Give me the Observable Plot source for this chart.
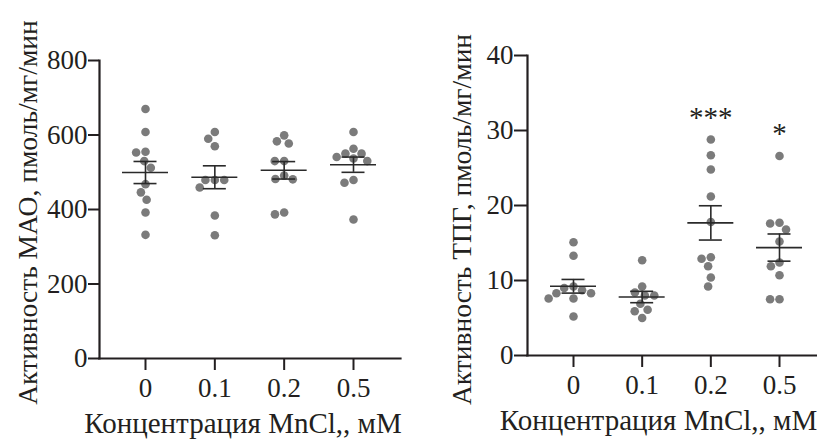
<!DOCTYPE html>
<html><head><meta charset="utf-8">
<script src="https://cdn.jsdelivr.net/npm/d3@7"></script>
<script src="https://cdn.jsdelivr.net/npm/@observablehq/plot@0.6"></script>
<style>
body{margin:0;background:#fff}
#wrap{display:flex;width:817px;height:441px;overflow:hidden;background:#fff}
#wrap svg{flex:none}
#wrap svg, #wrap svg text{font-family:"Liberation Serif", Tinos, "Times New Roman", "DejaVu Serif", serif !important}
</style></head><body><div id="wrap"></div>
<script>
// ---- data ----
const concentrations = ["0", "0.1", "0.2", "0.5"];
const maoValues = [
  [670, 608, 555, 553, 530, 512, 468, 446, 426, 392, 332],
  [608, 590, 570, 479, 479, 479, 459, 384, 331],
  [599, 583, 577, 530, 530, 491, 482, 481, 392, 387],
  [608, 563, 550, 550, 541, 537, 530, 479, 472, 373]
];
const tpgValues = [
  [15.1, 13.3, 9.2, 9.0, 8.7, 8.3, 8.3, 7.6, 7.6, 5.2],
  [12.7, 9.2, 8.4, 8.0, 8.0, 6.9, 6.1, 5.9, 5.0],
  [28.8, 26.7, 24.8, 21.2, 17.8, 13.1, 12.9, 11.9, 10.4, 9.2],
  [26.6, 17.7, 17.6, 16.8, 15.2, 12.4, 11.9, 10.7, 7.5, 7.5]
];
const maoSignificance = ["", "", "", ""];
const tpgSignificance = ["", "", "***", "*"];
const maoTicks = [0, 200, 400, 600, 800];
const tpgTicks = [0, 10, 20, 30, 40];
const maoTitle = "Активность МАО, пмоль/мг/мин";
const tpgTitle = "Активность ТПГ, пмоль/мг/мин";
const xTitle = "Концентрация MnCl,, мМ";

// ---- helpers ----
// simple centred beeswarm in pixel space, returns pixel offsets
function swarm(py) {
  const d = 9.4;
  const order = d3.range(py.length).sort((a, b) => py[a] - py[b]);
  const placed = [], off = new Array(py.length);
  for (const i of order) {
    const y = py[i];
    const cands = [0];
    for (const p of placed) {
      const dy = Math.abs(p.y - y);
      if (dy < d) { const dx = Math.sqrt(d * d - dy * dy); cands.push(p.x - dx, p.x + dx); }
    }
    cands.sort((a, b) => Math.abs(a) - Math.abs(b) || a - b);
    const x = cands.find(c => placed.every(p => (p.x - c) ** 2 + (p.y - y) ** 2 >= d * d - 1e-6));
    placed.push({x, y}); off[i] = x;
  }
  return off;
}

const font = "'Liberation Serif', Tinos, 'Times New Roman', serif";
const ink = "#231f20";
const tickFont = 27, xTitleFont = 29, yTitleFont = 27.5;

function panel(o) {
  const height = 441;
  const yRange = [height - o.marginBottom, o.marginTop];
  const ys = d3.scaleLinear([0, o.yMax], yRange);
  const ppu = (o.xRange[1] - o.xRange[0]) / (concentrations.length - 1);
  const points = [];
  o.values.forEach((vals, g) => {
    const offs = swarm(vals.map(v => ys(v)));
    vals.forEach((v, i) => points.push({g, x: g + offs[i] / ppu, v}));
  });
  const stats = o.values.map((vals, g) => {
    const m = d3.mean(vals), s = d3.deviation(vals) / Math.sqrt(vals.length);
    return {g, m, lo: m - s, hi: m + s, top: d3.max(vals), star: o.stars[g]};
  });
  const meanHalf = 23 / ppu, capHalf = 11.5 / ppu;
  return Plot.plot({
    width: o.width, height,
    marginLeft: o.marginLeft, marginRight: o.marginRight,
    marginTop: o.marginTop, marginBottom: o.marginBottom,
    style: {fontFamily: font, fontSize: tickFont + "px", color: ink, background: "#fff", overflow: "visible"},
    x: {type: "linear", domain: [0, concentrations.length - 1], range: o.xRange},
    y: {domain: [0, o.yMax], range: yRange},
    marks: [
      Plot.axisY(o.ticks, {tickSize: o.tickSizeY, tickPadding: 1, strokeWidth: 2, label: null, fontSize: tickFont}),
      Plot.axisX(d3.range(concentrations.length), {tickSize: 12, tickPadding: 7, strokeWidth: 2,
        tickFormat: i => concentrations[i], label: null, fontSize: tickFont}),
      Plot.frame({anchor: "left", strokeWidth: 2.2, stroke: ink}),
      Plot.frame({anchor: "bottom", strokeWidth: 2.2, stroke: ink}),
      Plot.dot(points, {x: "x", y: "v", r: 4.3, fill: "#7b7b7b", stroke: "none"}),
      Plot.ruleY(stats, {y: "m", x1: d => d.g - meanHalf, x2: d => d.g + meanHalf, stroke: "#2a2a2a", strokeWidth: 1.6}),
      Plot.ruleX(stats, {x: "g", y1: "lo", y2: "hi", stroke: "#2a2a2a", strokeWidth: 1.6}),
      Plot.ruleY(stats, {y: "lo", x1: d => d.g - capHalf, x2: d => d.g + capHalf, stroke: "#2a2a2a", strokeWidth: 1.6}),
      Plot.ruleY(stats, {y: "hi", x1: d => d.g - capHalf, x2: d => d.g + capHalf, stroke: "#2a2a2a", strokeWidth: 1.6}),
      Plot.text(stats.filter(d => d.star), {x: "g", y: "top", text: "star", dy: -13, lineAnchor: "bottom", fontSize: xTitleFont, fill: ink}),
      Plot.text([o.yTitle], {frameAnchor: "left", rotate: -90, dx: o.yTitleDx, dy: o.yTitleDy,
        textAnchor: "middle", lineAnchor: "middle", fontSize: yTitleFont, fill: ink}),
      Plot.text([xTitle], {frameAnchor: "bottom", dx: o.xTitleDx, dy: 74, textAnchor: "middle",
        lineAnchor: "bottom", fontSize: xTitleFont, fill: ink})
    ]
  });
}

const wrap = document.getElementById("wrap");
wrap.append(panel({
  values: maoValues, ticks: maoTicks, yMax: 800, stars: maoSignificance, yTitle: maoTitle,
  width: 408, marginLeft: 99, marginRight: 8, marginTop: 60, marginBottom: 83,
  xRange: [145, 353], tickSizeY: 11, yTitleDx: -71, yTitleDy: 3, xTitleDx: -7
}));
wrap.append(panel({
  values: tpgValues, ticks: tpgTicks, yMax: 40, stars: tpgSignificance, yTitle: tpgTitle,
  width: 409, marginLeft: 119, marginRight: 0, marginTop: 55, marginBottom: 86,
  xRange: [165, 371], tickSizeY: 13, yTitleDx: -65, yTitleDy: 14, xTitleDx: -14
}));
</script></body></html>
